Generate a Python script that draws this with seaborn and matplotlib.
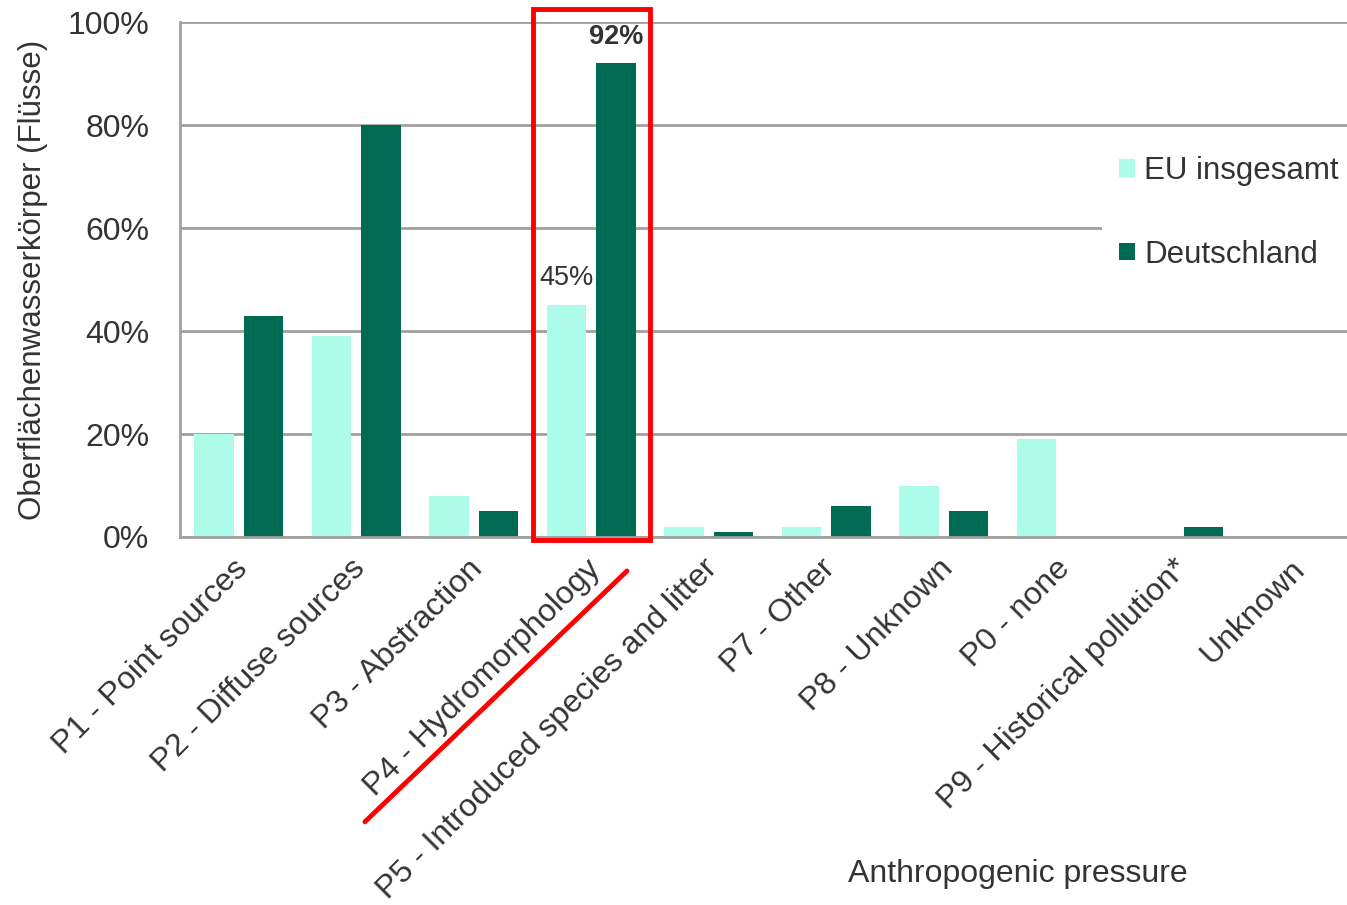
import numpy as np
import pandas as pd
import matplotlib
matplotlib.use("Agg")
import matplotlib.pyplot as plt
import matplotlib.transforms as mtransforms
import seaborn as sns

# categories and series values (percent of river water bodies)
pressures = [
    "P1 - Point sources",
    "P2 - Diffuse sources",
    "P3 - Abstraction",
    "P4 - Hydromorphology",
    "P5 - Introduced species and litter",
    "P7 - Other",
    "P8 - Unknown",
    "P0 - none",
    "P9 - Historical pollution*",
    "Unknown",
]
eu_values = [20, 39, 8, 45, 2, 2, 10, 19, 0, 0]
de_values = [43, 80, 5, 92, 1, 6, 5, 0, 2, 0]
series_names = ["EU insgesamt", "Deutschland"]
colors = ["#ADFCEA", "#006A52"]

df = pd.DataFrame({
    "pressure": pressures * 2,
    "region": [series_names[0]] * len(pressures) + [series_names[1]] * len(pressures),
    "value": eu_values + de_values,
})

sns.set_style("white")
plt.rcParams["font.family"] = ["Liberation Sans", "DejaVu Sans"]
text_color = "#333333"
grid_color = "#A0A0A0"
fs = 23

fig = plt.figure(figsize=(13.47, 9.05), dpi=100)
ax = fig.add_axes([180 / 1347, 1 - 537 / 905, 1175 / 1347, 515 / 905])

sns.barplot(data=df, x="pressure", y="value", hue="region", order=pressures,
            hue_order=series_names, palette=colors, width=0.84, gap=0.2,
            saturation=1, linewidth=0, ax=ax, legend=True)

ax.set_xlim(-0.5, len(pressures) - 0.5)
ax.set_ylim(0, 100)
ax.set_yticks(range(0, 101, 20))
ax.set_yticklabels([f"{v}%" for v in range(0, 101, 20)], fontsize=fs, color=text_color)
ax.grid(axis="y", color=grid_color, linewidth=2)
ax.set_axisbelow(True)
for side in ["top", "right"]:
    ax.spines[side].set_visible(False)
for side in ["left", "bottom"]:
    ax.spines[side].set_color(grid_color)
    ax.spines[side].set_linewidth(2)
ax.tick_params(axis="y", length=0, pad=22)

# labels at category centres, tick marks at category boundaries
ax.set_xticks(range(len(pressures)))
ax.set_xticklabels(pressures, rotation=45, ha="right", va="top",
                   rotation_mode="anchor", fontsize=fs, color=text_color)
ax.tick_params(axis="x", which="major", length=0, pad=12)
shift = mtransforms.ScaledTranslation(-6 / 100, 0, fig.dpi_scale_trans)
for lbl in ax.get_xticklabels():
    lbl.set_transform(lbl.get_transform() + shift)
ax.set_xticks(np.arange(-0.5, len(pressures), 1), minor=True)
ax.tick_params(axis="x", which="minor", length=9, width=2, color=grid_color, direction="out")

ax.set_ylabel("Oberflächenwasserkörper (Flüsse)", fontsize=22.5, color=text_color, labelpad=14)
ax.set_xlabel("Anthropogenic pressure", fontsize=fs, color=text_color)
ax.xaxis.set_label_coords(0.713, -0.655)
ax.xaxis.label.set_verticalalignment("center")

# value labels for P4
i4 = pressures.index("P4 - Hydromorphology")
ax.text(i4 - 0.21, eu_values[i4] + 5.2, f"{eu_values[i4]}%", ha="center", va="center",
        fontsize=19.5, color=text_color)
ax.text(i4 + 0.21, de_values[i4] + 5, f"{de_values[i4]}%", ha="center", va="center",
        fontsize=19.5, fontweight="bold", color=text_color)

# red highlight box and underline
ax.add_patch(plt.Rectangle((i4 - 0.5, -0.6), 1.0, 103.1, fill=False, edgecolor="#FF0000",
                           linewidth=3.5, clip_on=False, zorder=6))
ax.plot([1.074, 3.304], [-55.3, -6.6], color="#FF0000", linewidth=3.5, clip_on=False, zorder=6)

handles, labels = ax.get_legend_handles_labels()
leg = ax.legend(handles, labels, loc="center left", bbox_to_anchor=(1102 / 1347, 1 - 213 / 905),
                bbox_transform=fig.transFigure, frameon=True, facecolor="white", edgecolor="none",
                framealpha=1, fontsize=22.5, handlelength=0.5, handleheight=0.5,
                handletextpad=0.3, labelspacing=1.7, borderpad=0.55, borderaxespad=0)
for t in leg.get_texts():
    t.set_color(text_color)

fig.savefig("out.png", dpi=100)
